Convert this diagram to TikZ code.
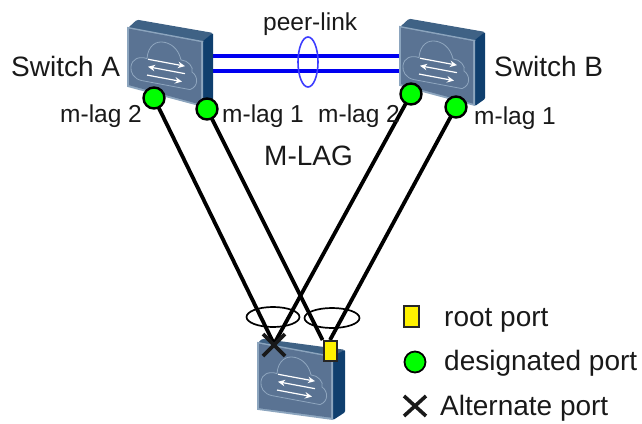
\documentclass[tikz,border=0pt]{standalone}
\usepackage{fontspec}
\setmainfont{Liberation Sans}
\usetikzlibrary{arrows.meta,shapes.geometric}
\definecolor{swface}{HTML}{5A7393}
\definecolor{swtop}{HTML}{3F6285}
\definecolor{swside}{HTML}{0F3F6E}
\definecolor{swedge}{HTML}{8CA5BE}
\definecolor{swcloud}{HTML}{8FA6BF}
\definecolor{peer}{HTML}{0000F0}
\definecolor{peerring}{HTML}{3C3CFF}
\definecolor{portgreen}{HTML}{00FF00}
\tikzset{
  lbl/.style={inner sep=0pt,text=black!90,anchor=base west},
  biglbl/.style={lbl,font=\fontsize{28}{28}\selectfont},
  smalllbl/.style={lbl,font=\fontsize{24.5}{24.5}\selectfont},
  port/.style={circle,draw=black,line width=2.4pt,fill=portgreen,minimum size=21pt,inner sep=0pt},
  rootport/.style={rectangle,draw=black!85,line width=2pt,fill=yellow,minimum width=13pt,minimum height=20pt,inner sep=0pt},
  wire/.style={draw=black,line width=3.8pt},
  peerline/.style={draw=peer,line width=3.8pt},
  lagring/.style={ellipse,draw=black,line width=1.7pt,inner sep=0pt},
  crossmark/.style={draw=black!90,line width=3.6pt},
  pics/switchbox/.style n args={7}{code={
    \begin{scope}[x={(1pt,-0.187pt)},y={(0pt,-1pt)}]
      \fill[swtop,rounded corners=1.5pt] (0,1) -- (#2,#3) -- (#4,#5) -- (75,1) -- cycle;
      \fill[swside,rounded corners=1pt] (75,0) -- (#4,#5) -- (#4,#7) -- (75,#1+#6) -- cycle;
      \fill[swedge] (-1,0) -- (75,0) -- (75,#1+#6) -- (-1,#1-#6) -- cycle;
      \fill[swface] (1,1.5) -- (73,1.5) -- (73,#1+#6-2) -- (1,#1-#6-2) -- cycle;
      \draw[swcloud,line width=.8pt] (14,51) .. controls (6,51) and (2,45) .. (3,39)
        .. controls (4,31) and (11,27) .. (19,28)
        .. controls (20,15) and (28,8) .. (37,8.5)
        .. controls (46,9) and (51,15) .. (53,23)
        .. controls (60,22) and (66,28) .. (64,33)
        .. controls (70,36) and (71,46) .. (62,51) -- cycle;
      \draw[white,line width=1.2pt,-{Stealth[length=7pt,width=6.5pt]}] (20,28.5) -- (57,28.5);
      \draw[white,line width=1.2pt,-{Stealth[length=7pt,width=6.5pt]}] (57,36) -- (20,36);
      \draw[white,line width=1.2pt,-{Stealth[length=7pt,width=6.5pt]}] (19,44.5) -- (54,44.5);
    \end{scope}
  }}
}
\begin{document}
\begin{tikzpicture}[x=1pt,y=-1pt]
\useasboundingbox (0,0) rectangle (642,423);
\clip (0,0) rectangle (642,423);
% peer-link
\coordinate (pa1) at (213,56); \coordinate (pb1) at (400,56);
\coordinate (pa2) at (213,71); \coordinate (pb2) at (400,71);
\draw[peerline] (pa1) -- (pb1);
\draw[peerline] (pa2) -- (pb2);
\node[draw=peerring,line width=1.6pt,ellipse,minimum width=20pt,minimum height=50pt,inner sep=0pt] (ring) at (308,62) {};
% switches
\pic at (128,27) {switchbox={63}{9}{-9}{85}{-10}{3}{57}};
\pic at (400,26) {switchbox={63}{9}{-9}{85}{-10}{3}{57}};
\pic at (258,342) {switchbox={66}{4}{-4}{87}{-8.5}{-2}{54}};
% ports
\coordinate (xm) at (274,344);
\coordinate (am2) at (154,98);
\coordinate (am1) at (207,109);
\coordinate (bm2) at (411,94);
\coordinate (bm1) at (456,107);
\node[rootport] (rp) at (330,351) {};
\draw[wire] (am2) -- (xm);
\draw[wire] (bm2) -- (xm);
\draw[wire] (am1) -- (rp.north west);
\draw[wire] (bm1) -- (rp.north);
\node[rootport] (rptop) at (330,351) {};
\node[port] (pam2) at (am2) {};
\node[port] (pam1) at (am1) {};
\node[port] (pbm2) at (bm2) {};
\node[port] (pbm1) at (bm1) {};
% alternate port on the lower switch
\coordinate (xe) at (263,334); \coordinate (xf) at (285,356);
\coordinate (xg) at (285,334); \coordinate (xh) at (263,356);
\draw[crossmark] (xe) -- (xf);
\draw[crossmark] (xg) -- (xh);
% lag rings
\node[lagring,minimum width=53pt,minimum height=20pt] (ring1) at (273,317) {};
\node[lagring,minimum width=55pt,minimum height=20pt] (ring2) at (332,318) {};
% labels
\node[biglbl] (sa) at (11,76) {Switch A};
\node[biglbl] (sb) at (494,76) {Switch B};
\node[smalllbl] (pl) at (263,30) {peer-link};
\node[biglbl] (ml) at (264,165) {M-LAG};
\node[smalllbl] (t1) at (60,122) {m-lag 2};
\node[smalllbl] (t2) at (222,122) {m-lag 1};
\node[smalllbl] (t3) at (318,122) {m-lag 2};
\node[smalllbl] (t4) at (474,124) {m-lag 1};
% legend
\node[rootport,minimum width=15pt,minimum height=21pt] (lr) at (411.5,316.5) {};
\node[port,line width=1.8pt] (lc) at (415,362) {};
\coordinate (xa) at (404,396); \coordinate (xb) at (426,416);
\coordinate (xc) at (426,396); \coordinate (xd) at (404,416);
\draw[crossmark] (xa) -- (xb);
\draw[crossmark] (xc) -- (xd);
\node[biglbl] (l1) at (444,326) {root port};
\node[biglbl] (l2) at (444,370) {designated port};
\node[biglbl] (l3) at (440,415) {Alternate port};
\end{tikzpicture}
\end{document}
